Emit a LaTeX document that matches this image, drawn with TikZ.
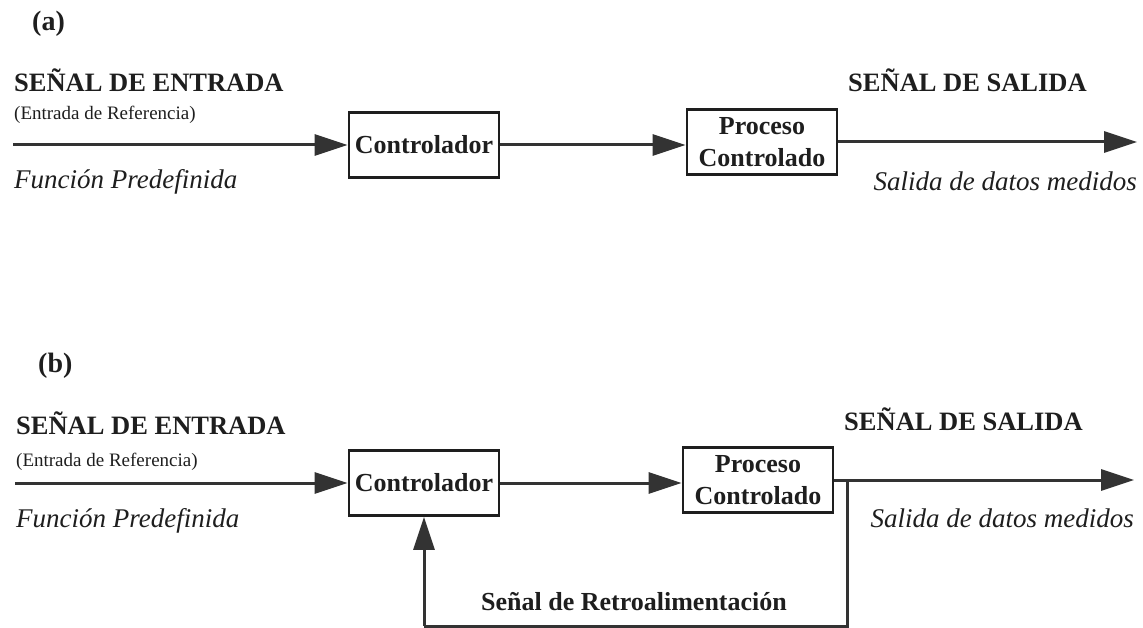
\documentclass[tikz,border=0pt]{standalone}
\usepackage{fontspec}
\setmainfont{Liberation Serif}
\usetikzlibrary{arrows.meta}
\definecolor{ink}{HTML}{1E1E1E}
\definecolor{wire}{HTML}{333333}
\tikzset{
  blk/.style={draw=ink, line width=2.8pt, minimum width=150pt, minimum height=65pt,
    inner sep=0pt, align=center, font=\fontsize{26}{32}\selectfont\bfseries, text=ink},
  lbl/.style={inner sep=0pt, text=ink},
  caps/.style={lbl, font=\fontsize{26.5}{30}\selectfont\bfseries},
  small/.style={lbl, font=\fontsize{19}{22}\selectfont},
  ital/.style={lbl, font=\fontsize{27}{30}\selectfont\itshape},
  panel/.style={lbl, font=\fontsize{28}{30}\selectfont\bfseries},
  wirestyle/.style={draw=wire, line width=3pt},
  arr/.style={wirestyle, -{Triangle[length=33pt,width=21pt]}}
}
\begin{document}
\begin{tikzpicture}[x=1pt,y=-1pt]
\useasboundingbox (0,0) rectangle (1143,628);
% ---------- panel (a) ----------
\node[panel, anchor=base west] (labA) at (32,31) {(a)};
\node[caps, anchor=base west] (inTitA) at (14,92) {SEÑAL DE ENTRADA};
\node[small, anchor=base west] (inSubA) at (14,120) {(Entrada de Referencia)};
\node[ital, anchor=base west] (inFunA) at (14,189) {Función Predefinida};
\node[caps, anchor=base west] (outTitA) at (848,92) {SEÑAL DE SALIDA};
\node[ital, anchor=base east] (outSubA) at (1137,191) {Salida de datos medidos};
\node[blk] (ctrlA) at (424,145) {Controlador};
\node[blk] (procA) at (762,142) {Proceso\\Controlado};
\coordinate (inA) at (13,145);
\coordinate (outA) at (1137,142);
\draw[arr] (inA) -- (ctrlA.west);
\draw[arr] (ctrlA.east) -- (ctrlA.east -| procA.west);
\draw[arr] (procA.east) -- (outA);
% ---------- panel (b) ----------
\node[panel, anchor=base west] (labB) at (38,372) {(b)};
\node[caps, anchor=base west] (inTitB) at (16,434) {SEÑAL DE ENTRADA};
\node[small, anchor=base west] (inSubB) at (16,466) {(Entrada de Referencia)};
\node[ital, anchor=base west] (inFunB) at (16,527) {Función Predefinida};
\node[caps, anchor=base west] (outTitB) at (844,430) {SEÑAL DE SALIDA};
\node[ital, anchor=base east] (outSubB) at (1134,527) {Salida de datos medidos};
\node[blk] (ctrlB) at (424,483) {Controlador};
\node[blk] (procB) at (758,480) {Proceso\\Controlado};
\node[lbl, anchor=base, font=\fontsize{26}{30}\selectfont\bfseries] (fbLbl) at (634,610) {Señal de Retroalimentación};
\coordinate (inB) at (15,483);
\coordinate (outB) at (1134,480);
\coordinate (tap) at (847,480);
\coordinate (fbR) at (847,626);
\coordinate (fbL) at (424,626);
\draw[arr] (inB) -- (ctrlB.west);
\draw[arr] (ctrlB.east) -- (ctrlB.east -| procB.west);
\draw[arr] (procB.east) -- (outB);
\draw[wirestyle] (tap) -- (fbR) -- (fbL);
\draw[arr] (fbL) -- (ctrlB.south);
\end{tikzpicture}
\end{document}
